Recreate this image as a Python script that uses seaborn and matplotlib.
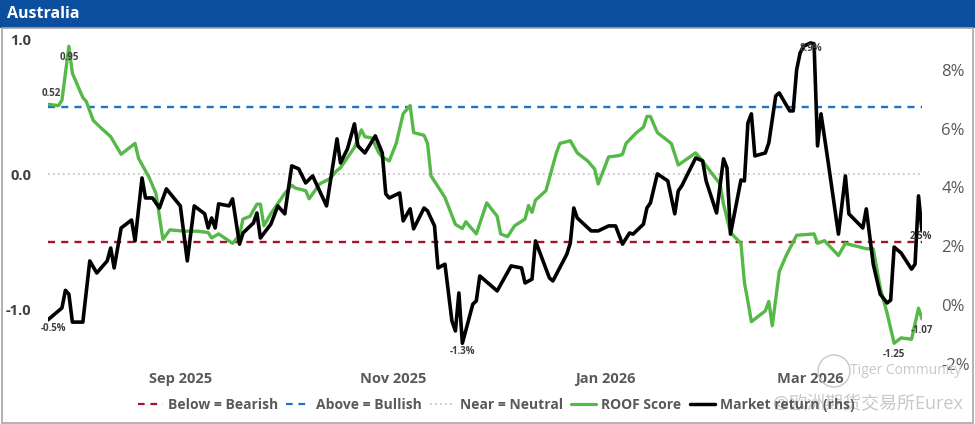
import pandas as pd
import numpy as np
import seaborn as sns
import matplotlib.pyplot as plt
import matplotlib.dates as mdates
from matplotlib.lines import Line2D
from matplotlib.patches import Rectangle, Ellipse

# ---- data (days counted from start date) ----
start = pd.Timestamp("2025-07-25")

roof_days = [0, 3, 4, 6, 7, 10, 11, 13, 15, 18, 21, 25, 26, 29, 31, 33, 35, 39, 43, 46,
             47, 49, 53, 55, 56, 58, 60, 61, 62, 64, 68, 70, 71, 74, 75, 78, 81, 83, 84, 88,
             90, 91, 93, 95, 96, 98, 100, 102, 104, 105, 108, 109, 110, 114, 117, 119, 120, 123, 126, 129,
             130, 132, 134, 137, 138, 139, 140, 143, 146, 147, 150, 152, 155, 157, 158, 161, 164, 165, 166, 169,
             171, 172, 173, 175, 178, 179, 181, 186, 188, 190, 193, 194, 196, 199, 200, 201, 202, 206, 207, 208,
             210, 212, 215, 220, 221, 223, 227, 229, 235, 237, 239, 241, 243, 245, 248, 250, 251]
roof_score = [0.52, 0.51, 0.55, 0.95, 0.75, 0.57, 0.54, 0.40, 0.35, 0.28, 0.15, 0.23, 0.12, -0.02, -0.14, -0.48, -0.41, -0.42, -0.42, -0.43,
              -0.47, -0.44, -0.51, -0.45, -0.33, -0.31, -0.22, -0.22, -0.38, -0.29, -0.14, -0.08, -0.10, -0.12, -0.18, -0.07, -0.03, 0.03, 0.05, 0.20,
              0.33, 0.28, 0.27, 0.16, 0.13, 0.10, 0.23, 0.45, 0.51, 0.31, 0.29, 0.23, -0.01, -0.17, -0.37, -0.40, -0.35, -0.44, -0.21, -0.31,
              -0.44, -0.46, -0.38, -0.33, -0.23, -0.28, -0.19, -0.12, 0.16, 0.23, 0.25, 0.16, 0.10, 0.04, -0.07, 0.13, 0.14, 0.15, 0.23, 0.31,
              0.35, 0.43, 0.43, 0.31, 0.25, 0.23, 0.07, 0.16, 0.10, 0.03, -0.07, -0.22, -0.43, -0.51, -0.80, -0.94, -1.09, -1.01, -0.94, -1.12,
              -0.72, -0.60, -0.45, -0.44, -0.51, -0.49, -0.60, -0.51, -0.55, -0.55, -0.84, -1.03, -1.25, -1.21, -1.22, -0.99, -1.07]

mkt_days = [0, 4, 5, 6, 7, 10, 12, 14, 17, 18, 19, 21, 24, 25, 27, 28, 30, 32, 34, 38,
            40, 42, 45, 46, 47, 48, 49, 52, 53, 55, 56, 59, 60, 61, 64, 66, 68, 70, 72, 74,
            76, 78, 80, 83, 84, 86, 88, 89, 91, 94, 96, 97, 98, 101, 102, 104, 105, 108, 109, 111,
            112, 114, 116, 117, 118, 119, 122, 123, 124, 129, 133, 136, 137, 139, 140, 144, 145, 149, 150, 151,
            152, 156, 158, 161, 163, 165, 167, 168, 171, 172, 173, 175, 178, 180, 181, 182, 186, 188, 189, 192,
            194, 195, 196, 198, 199, 200, 201, 202, 203, 206, 207, 209, 210, 213, 214, 215, 216, 217, 219, 220,
            221, 222, 224, 227, 229, 230, 234, 235, 237, 239, 241, 242, 243, 245, 248, 249, 250, 251]
mkt_return = [-0.5, -0.1, 0.5, 0.37, -0.58, -0.58, 1.5, 1.09, 1.5, 1.94, 1.26, 2.62, 2.89, 2.18, 4.32, 3.64, 3.64, 3.30, 3.95, 3.37,
              1.5, 3.37, 3.10, 2.62, 2.96, 2.62, 3.44, 3.37, 3.61, 2.07, 2.45, 2.79, 3.13, 2.28, 2.75, 3.37, 3.10, 4.73, 4.63, 4.15,
              4.39, 3.88, 3.37, 5.65, 4.83, 5.31, 6.16, 5.41, 5.17, 5.75, 5.17, 3.78, 3.64, 3.81, 2.86, 3.27, 2.59, 3.30, 3.20, 2.69,
              1.26, 1.39, -0.54, -0.88, 0.41, -1.3, 0.03, 0.14, 0.99, 0.48, 1.33, 1.26, 0.75, 0.88, 2.18, 0.92, 0.82, 1.73, 2.11, 3.30,
              2.96, 2.52, 2.52, 2.69, 2.69, 2.07, 2.45, 2.41, 2.75, 3.30, 3.47, 4.46, 4.22, 3.10, 3.88, 4.05, 5.0, 4.90, 4.22, 3.13,
              4.97, 4.66, 2.41, 3.64, 4.25, 4.22, 6.19, 6.50, 5.07, 5.17, 5.51, 7.11, 7.21, 6.60, 6.60, 8.0, 8.57, 8.80, 8.91, 8.88,
              5.41, 6.50, 4.90, 2.41, 4.39, 3.10, 2.62, 3.27, 1.39, 0.37, 0.07, 0.17, 1.97, 1.77, 1.22, 1.39, 3.71, 2.52]

bullish_level = 0.5
bearish_level = -0.5
neutral_level = 0.0
left_ticks = [-1.0, 0.0, 1.0]
right_ticks = [-2, 0, 2, 4, 6, 8]

GREEN = "#55B947"
RED = "#A3142B"
BLUE = "#1C74CC"
GREY = "#BDBDBD"
TXT = "#595959"

sns.set_theme(style="white")
plt.rcParams['font.family'] = ['Open Sans', 'Noto Sans CJK SC', 'DejaVu Sans']

roof = pd.DataFrame({"date": start + pd.to_timedelta(roof_days, unit="D"), "score": roof_score})
mkt = pd.DataFrame({"date": start + pd.to_timedelta(mkt_days, unit="D"), "ret": mkt_return})

fig = plt.figure(figsize=(9.75, 4.24), dpi=100)
ax = fig.add_axes([48 / 975, 1 - 368 / 424, (922 - 48) / 975, 338 / 424])
ax2 = ax.twinx()

ax.axhline(bearish_level, color=RED, lw=1.7, ls=(0, (3, 2.6)))
ax.axhline(bullish_level, color=BLUE, lw=1.7, ls=(0, (3, 2.6)))
ax.axhline(neutral_level, color=GREY, lw=1.2, ls=(0, (1, 2)))
sns.lineplot(data=roof, x="date", y="score", ax=ax, color=GREEN, lw=2.4, legend=False)
sns.lineplot(data=mkt, x="date", y="ret", ax=ax2, color="black", lw=2.6, legend=False)

ax.set_ylim(-1.433, 1.07)
ax2.set_ylim(-2.14, 9.35)
ax.set_xlim(roof["date"].iloc[0], roof["date"].iloc[-1])

ax.set_yticks(left_ticks)
ax.set_yticklabels([f"{t:.1f}" for t in left_ticks], fontsize=10.5, fontweight="bold", color="#404040")
ax2.set_yticks(right_ticks)
ax2.set_yticklabels([f"{t}%" for t in right_ticks], fontsize=12, color=TXT)
ax.xaxis.set_major_locator(mdates.MonthLocator(bymonth=[1, 3, 9, 11]))
ax.xaxis.set_major_formatter(mdates.DateFormatter("%b %Y"))
for lbl in ax.get_xticklabels():
    lbl.set_fontsize(10.5)
    lbl.set_fontweight("bold")
    lbl.set_color(TXT)
ax.tick_params(axis="x", length=0, pad=3)
ax.tick_params(axis="y", length=0, pad=12)
ax2.tick_params(axis="y", length=0, pad=14)
ax.set_xlabel("")
ax.set_ylabel("")
ax2.set_ylabel("")
for a in (ax, ax2):
    for s in a.spines.values():
        s.set_visible(False)

# point labels
ann = dict(textcoords="offset points", ha="center", va="center", fontsize=7, color="#404040", fontweight="bold")
i_max = int(np.argmax(roof_score)); i_min = int(np.argmin(roof_score))
ax.annotate(f"{roof_score[0]:.2f}", (roof["date"].iloc[0], roof_score[0]), xytext=(2, 8), **ann)
ax.annotate(f"{roof_score[i_max]:.2f}", (roof["date"].iloc[i_max], roof_score[i_max]), xytext=(0, -8), **ann)
ax.annotate(f"{roof_score[i_min]:.2f}", (roof["date"].iloc[i_min], roof_score[i_min]), xytext=(0, -8), **ann)
ax.annotate(f"{roof_score[-1]:.2f}", (roof["date"].iloc[-1], roof_score[-1]), xytext=(0, -8), **ann)
j_max = int(np.argmax(mkt_return)); j_min = int(np.argmin(mkt_return))
ax2.annotate(f"{mkt_return[0]:.1f}%", (mkt["date"].iloc[0], mkt_return[0]), xytext=(4, -6), **ann)
ax2.annotate(f"{mkt_return[j_min]:.1f}%", (mkt["date"].iloc[j_min], mkt_return[j_min]), xytext=(0, -6), **ann)
ax2.annotate(f"{mkt_return[j_max]:.1f}%", (mkt["date"].iloc[j_max], mkt_return[j_max]), xytext=(0, -4), **ann)
ax2.annotate(f"{mkt_return[-1]:.1f}%", (mkt["date"].iloc[-1], mkt_return[-1]), xytext=(-1, -4), **ann)

# header bar and frame
fig.patches.append(Rectangle((0, 1 - 28 / 424), 1, 28 / 424, transform=fig.transFigure,
                             facecolor="#0B4F9E", edgecolor="none", zorder=0))
fig.patches.append(Rectangle((1.5 / 975, 1.5 / 424), 971 / 975, (424 - 29.5) / 424, transform=fig.transFigure,
                             facecolor="none", edgecolor="#A6A6A6", lw=1.2, zorder=0))
fig.text(7 / 975, 1 - 14 / 424, "Australia", color="white", fontsize=11.5, fontweight="bold", va="center", ha="left")

handles = [
    Line2D([], [], color=RED, lw=1.6, ls=(0, (3, 2.6))),
    Line2D([], [], color=BLUE, lw=1.6, ls=(0, (3, 2.6))),
    Line2D([], [], color=GREY, lw=1.2, ls=(0, (1, 2))),
    Line2D([], [], color=GREEN, lw=2.3),
    Line2D([], [], color="black", lw=2.5),
]
labels = ["Below = Bearish", "Above = Bullish", "Near = Neutral", "ROOF Score", "Market return (rhs)"]
leg = fig.legend(handles, labels, loc="center", bbox_to_anchor=(496 / 975, 1 - 405 / 424), ncol=5,
                 frameon=False, fontsize=10, handlelength=1.8, handletextpad=0.35, columnspacing=0.6)
for t in leg.get_texts():
    t.set_color(TXT)
    t.set_fontweight("bold")

# watermark
fig.patches.append(Ellipse((834 / 975, 1 - 371 / 424), 32 / 975, 32 / 424, transform=fig.transFigure,
                           facecolor="none", edgecolor="#C8C8C8", lw=1.0, zorder=5))
fig.text(906 / 975, 1 - 371 / 424, "Tiger Community", color="#C8C8C8", fontsize=10, ha="center", va="center")
fig.text(868 / 975, 1 - 404 / 424, "@欧洲期货交易所Eurex", color="#C8C8C8", fontsize=13, ha="center", va="center")

fig.savefig("out.png", dpi=100)
